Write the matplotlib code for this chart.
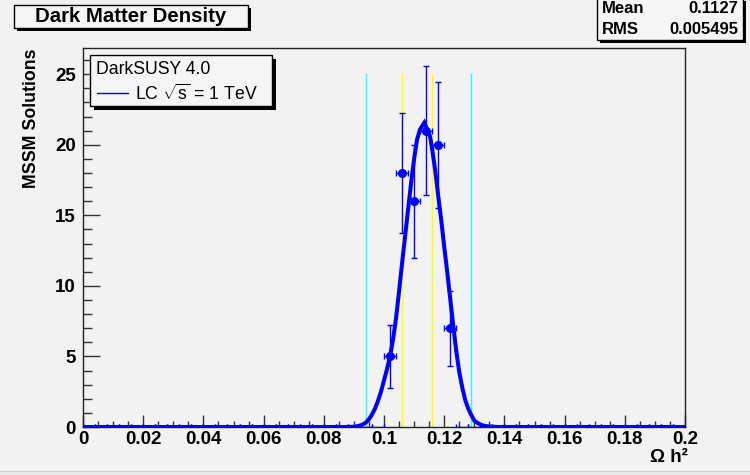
import numpy as np
import matplotlib
matplotlib.use("Agg")
import matplotlib.pyplot as plt
from matplotlib.patches import Rectangle

plt.rcParams['font.family'] = ['Liberation Sans', 'DejaVu Sans']
plt.rcParams['mathtext.fontset'] = 'custom'
plt.rcParams['mathtext.rm'] = 'Liberation Sans'
plt.rcParams['mathtext.it'] = 'Liberation Sans'

# histogram: 50 bins of width 0.004 between 0 and 0.2
bin_width = 0.004
bin_centers = np.arange(50) * bin_width + bin_width / 2
filled_bins = [25, 26, 27, 28, 29, 30]
filled_counts = [5, 18, 16, 21, 20, 7]

# fitted curve (zero outside this range)
curve_x = [0.0, 0.088, 0.090, 0.091, 0.092, 0.093, 0.094, 0.095, 0.096, 0.097,
           0.098, 0.099, 0.100, 0.101, 0.102, 0.103, 0.104, 0.105, 0.106, 0.107,
           0.108, 0.109, 0.110, 0.111, 0.112, 0.1134, 0.1153, 0.116, 0.117, 0.118,
           0.119, 0.120, 0.121, 0.122, 0.123, 0.124, 0.125, 0.126, 0.127, 0.128,
           0.129, 0.130, 0.131, 0.132, 0.133, 0.134, 0.136, 0.138, 0.2]
curve_y = [0.0, 0.0, 0.02, 0.05, 0.1, 0.18, 0.32, 0.55, 0.88, 1.3,
           1.85, 2.5, 3.3, 4.1, 5.0, 6.2, 7.7, 9.6, 11.6, 13.5,
           15.4, 17.3, 19.0, 20.4, 21.1, 21.57, 20.6, 19.7, 18.2, 16.4,
           14.7, 12.8, 11.0, 9.1, 7.2, 5.4, 3.9, 2.8, 1.9, 1.3,
           0.85, 0.45, 0.3, 0.18, 0.1, 0.06, 0.02, 0.0, 0.0]

# reference bands
cyan_lines = [0.094, 0.129]
yellow_lines = [0.106, 0.116]
band_top = 25

stat_names = ["Mean", "RMS"]
stat_values = ["0.1127", "0.005495"]

xtick_vals = [0, 0.02, 0.04, 0.06, 0.08, 0.1, 0.12, 0.14, 0.16, 0.18, 0.2]
xtick_labels = ["0", "0.02", "0.04", "0.06", "0.08", "0.1", "0.12", "0.14", "0.16", "0.18", "0.2"]
ytick_vals = [0, 5, 10, 15, 20, 25]

W, H = 750, 475
bg = '#f2f2f2'


def fx(x):
    return x / W


def fy(y):
    return 1 - y / H


def box(fig, x0, y0, x1, y1, shadow):
    fig.patches.append(Rectangle((fx(x0 + shadow), fy(y1 + shadow)), fx(x1 - x0), (y1 - y0) / H,
                                 transform=fig.transFigure, facecolor='black', edgecolor='black',
                                 lw=0, zorder=5))
    fig.patches.append(Rectangle((fx(x0), fy(y1)), fx(x1 - x0), (y1 - y0) / H,
                                 transform=fig.transFigure, facecolor='#f5f5f5', edgecolor='black',
                                 lw=1, zorder=6))


fig = plt.figure(figsize=(7.5, 4.75), dpi=100, facecolor=bg)
# canvas border
fig.patches.append(Rectangle((0, 0), 1, 1 - 471 / H, transform=fig.transFigure,
                             facecolor='#e9e9e9', edgecolor='none', zorder=0))
fig.patches.append(Rectangle((0, 1 - 472 / H), 1, 1 / H, transform=fig.transFigure,
                             facecolor='#cfcfcf', edgecolor='none', zorder=0))

ax = fig.add_axes([fx(83), fy(427), fx(685 - 83), (427 - 48) / H])
ax.set_facecolor(bg)

counts = np.zeros(50)
counts[filled_bins] = filled_counts
errs = np.sqrt(counts)
ymax = 1.05 * np.max(counts + errs)

for xv in cyan_lines:
    ax.plot([xv, xv], [0, band_top], color='#22ffff', lw=1, zorder=1)
for xv in yellow_lines:
    ax.plot([xv, xv], [0, band_top], color='#ffff00', lw=1, zorder=1)

ax.plot(curve_x, curve_y, color='#0000ff', lw=2.9, zorder=3, solid_joinstyle='miter')

empty = counts == 0
ax.errorbar(bin_centers[empty], counts[empty], xerr=bin_width / 2, fmt='none',
            ecolor='#0000ff', elinewidth=1, capsize=2, zorder=4)
ax.errorbar(bin_centers[~empty], counts[~empty], xerr=bin_width / 2, yerr=errs[~empty],
            fmt='o', color='#0000ff', ms=5.5, elinewidth=1, capsize=2.5, zorder=4)

ax.set_xlim(0, 0.2)
ax.set_ylim(0, ymax)
ax.set_xticks(xtick_vals)
ax.set_xticklabels(xtick_labels)
ax.set_yticks(ytick_vals)
ax.xaxis.set_minor_locator(matplotlib.ticker.MultipleLocator(0.005))
ax.yaxis.set_minor_locator(matplotlib.ticker.MultipleLocator(1))
ax.tick_params(axis='x', which='major', direction='in', length=8.5, width=1, color='#333333',
               top=False, pad=3)
ax.tick_params(axis='x', which='minor', direction='in', length=4, width=1, color='#333333', top=False)
ax.tick_params(axis='y', which='major', direction='in', length=12, width=1, color='#333333',
               right=False, pad=5)
ax.tick_params(axis='y', which='minor', direction='in', length=6.5, width=1, color='#333333', right=False)
for lab in ax.get_xticklabels() + ax.get_yticklabels():
    lab.set_fontweight('bold')
    lab.set_fontsize(13.5)
for s in ax.spines.values():
    s.set_linewidth(1)
    s.set_color('#222222')

fig.text(fx(31), fy(49), 'MSSM Solutions', rotation=90, ha='center', va='top',
         fontsize=12.8, fontweight='bold')
fig.text(fx(688), fy(462), 'Ω h²', ha='right', va='baseline', fontsize=13.5, fontweight='bold')

# title box
box(fig, 14, 5, 248, 28, 3)
fig.text(fx(131), fy(17), 'Dark Matter Density', ha='center', va='center',
         fontsize=14.7, fontweight='bold', zorder=7)

# stats box
box(fig, 597, -2, 743, 40, 3)
for i, (nm, val) in enumerate(zip(stat_names, stat_values)):
    base = 13 + 21 * i
    fig.text(fx(602), fy(base), nm, ha='left', va='baseline', fontsize=12,
             fontweight='bold', zorder=7)
    fig.text(fx(738), fy(base), val, ha='right', va='baseline', fontsize=12,
             fontweight='bold', zorder=7)

# legend box
box(fig, 90, 55, 272, 106, 4)
fig.text(fx(96), fy(74), 'DarkSUSY 4.0', ha='left', va='baseline', fontsize=12.7, zorder=7)
fig.lines.append(matplotlib.lines.Line2D([fx(97), fx(128)], [fy(93), fy(93)],
                                         transform=fig.transFigure, color='#0000ff', lw=1, zorder=7))
fig.text(fx(135), fy(100), r'LC $\sqrt{\mathrm{s}}$ = 1 TeV', ha='left', va='baseline',
         fontsize=12.7, zorder=7)

fig.savefig('out.png', dpi=100, facecolor=bg)
